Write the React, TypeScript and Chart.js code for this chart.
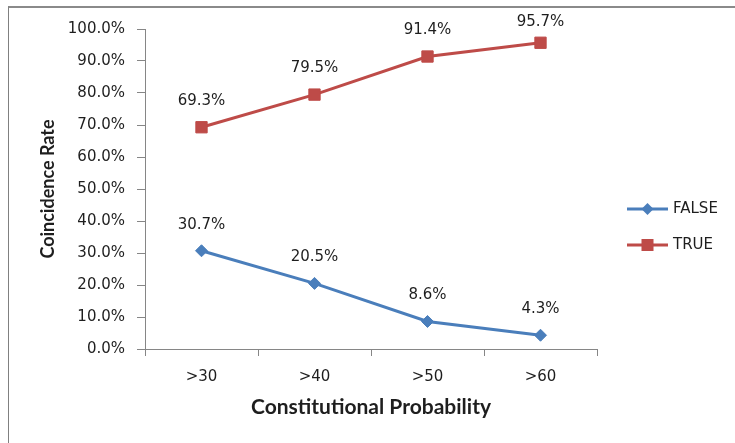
import React, { useEffect, useRef } from "react";
import { Chart, registerables } from "chart.js";

Chart.register(...registerables);

const categories = [">30", ">40", ">50", ">60"];
const falseValues = [30.7, 20.5, 8.6, 4.3];
const trueValues = [69.3, 79.5, 91.4, 95.7];
const seriesNames = ["FALSE", "TRUE"];
const yTickStep = 10;

const BLUE = "#4A7EBB";
const RED = "#BE4B48";
const AXIS = "#868686";
const TEXT = "#1e1e1e";
const TICK_FONT = "'DejaVu Sans', Verdana, sans-serif";
const TITLE_FONT = "Lato, 'Open Sans', sans-serif";

const dataLabels = {
  id: "dataLabels",
  afterDatasetsDraw(chart: any) {
    const ctx = chart.ctx;
    ctx.save();
    ctx.font = `15px ${TICK_FONT}`;
    ctx.fillStyle = TEXT;
    ctx.textAlign = "center";
    ctx.textBaseline = "middle";
    chart.data.datasets.forEach((ds: any, i: number) => {
      const meta = chart.getDatasetMeta(i);
      meta.data.forEach((pt: any, j: number) => {
        const y = Math.max(pt.y - 26, 14);
        ctx.fillText(`${Number(ds.data[j]).toFixed(1)}%`, pt.x, y);
      });
    });
    ctx.restore();
  },
};

const sideLegend = {
  id: "sideLegend",
  afterDraw(chart: any) {
    const ctx = chart.ctx;
    const area = chart.chartArea;
    const mid = (area.top + area.bottom) / 2;
    ctx.save();
    chart.data.datasets.forEach((ds: any, i: number) => {
      const y = mid + 20 + i * 36;
      const x0 = area.right + 30;
      const x1 = area.right + 71;
      ctx.strokeStyle = ds.borderColor;
      ctx.lineWidth = 3;
      ctx.beginPath();
      ctx.moveTo(x0, y);
      ctx.lineTo(x1, y);
      ctx.stroke();
      ctx.fillStyle = ds.pointBackgroundColor;
      const cx = (x0 + x1) / 2;
      if (ds.pointStyle === "rect") {
        ctx.fillRect(cx - 6, y - 6, 12, 12);
      } else {
        ctx.beginPath();
        ctx.moveTo(cx, y - 6);
        ctx.lineTo(cx + 6, y);
        ctx.lineTo(cx, y + 6);
        ctx.lineTo(cx - 6, y);
        ctx.closePath();
        ctx.fill();
      }
      ctx.fillStyle = TEXT;
      ctx.font = `15px ${TICK_FONT}`;
      ctx.textAlign = "left";
      ctx.textBaseline = "middle";
      ctx.fillText(ds.label, area.right + 76, y);
    });
    ctx.restore();
  },
};

export default function App() {
  const ref = useRef<HTMLCanvasElement>(null);
  useEffect(() => {
    if (!ref.current) return;
    const chart = new Chart(ref.current, {
      type: "line",
      data: {
        labels: categories,
        datasets: [
          {
            label: seriesNames[0],
            data: falseValues,
            borderColor: BLUE,
            backgroundColor: BLUE,
            pointBackgroundColor: BLUE,
            pointBorderColor: BLUE,
            pointStyle: "rectRot",
            pointRadius: 6,
            pointBorderWidth: 1,
            borderWidth: 3,
            tension: 0,
          },
          {
            label: seriesNames[1],
            data: trueValues,
            borderColor: RED,
            backgroundColor: RED,
            pointBackgroundColor: RED,
            pointBorderColor: RED,
            pointStyle: "rect",
            pointRadius: 8,
            pointBorderWidth: 1,
            borderWidth: 3,
            tension: 0,
          },
        ],
      },
      options: {
        animation: false,
        responsive: false,
        maintainAspectRatio: false,
        layout: { padding: { left: 0, top: 20, right: 138, bottom: 0 } },
        plugins: {
          legend: { display: false },
          tooltip: { enabled: false },
        },
        scales: {
          x: {
            type: "category",
            offset: true,
            afterFit: (s: any) => {
              s.height = 94;
            },
            grid: {
              offset: true,
              drawOnChartArea: false,
              drawTicks: true,
              tickLength: 7,
              color: AXIS,
            },
            border: { display: true, color: AXIS, width: 1 },
            ticks: {
              color: TEXT,
              padding: 12,
              font: { family: TICK_FONT, size: 15 },
            },
            title: {
              display: true,
              text: "Constitutional Probability",
              color: TEXT,
              font: { family: TITLE_FONT, size: 21, weight: "bold" },
              padding: { top: 0, bottom: 23 },
            },
          },
          y: {
            min: 0,
            max: 100,
            afterFit: (s: any) => {
              s.width = 136;
            },
            grid: {
              drawOnChartArea: false,
              drawTicks: true,
              tickLength: 8,
              color: AXIS,
            },
            border: { display: true, color: AXIS, width: 1 },
            ticks: {
              stepSize: yTickStep,
              color: TEXT,
              padding: 12,
              font: { family: TICK_FONT, size: 15 },
              callback: (v: any) => `${Number(v).toFixed(1)}%`,
            },
            title: {
              display: true,
              text: "Coincidence Rate",
              color: TEXT,
              font: { family: TITLE_FONT, size: 18, weight: "bold" },
              padding: { top: 28, bottom: 0 },
            },
          },
        },
      },
      plugins: [dataLabels, sideLegend],
    });
    return () => chart.destroy();
  }, []);

  return (
    <div
      style={{
        position: "absolute",
        left: 8,
        top: 6,
        width: 727,
        height: 437,
        borderTop: "2px solid #8a8a8a",
        borderLeft: "1px solid #808080",
        overflow: "hidden",
        background: "#fff",
      }}
    >
      <canvas ref={ref} width={726} height={435} style={{ display: "block" }} />
    </div>
  );
}
